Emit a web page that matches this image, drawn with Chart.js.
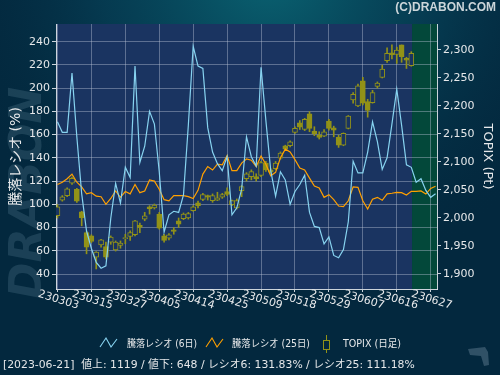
<!DOCTYPE html>
<html>
<head>
<meta charset="utf-8">
<script src="https://cdn.jsdelivr.net/npm/chart.js@4.4.0/dist/chart.umd.min.js"></script>
<style>
    html, body { margin: 0; padding: 0; background: #02253b; }
    #chart { display: block; }
</style>
</head>
<body>
<canvas id="chart" width="500" height="375"></canvas>
<script>
// x axis: one step per trading day, labels every 7 days
const xTickIndex = [0, 7, 14, 21, 28, 35, 42, 49, 56, 63, 70, 77];
const xTickLabels = ['230303', '230315', '230327', '230405', '230414', '230425',
    '230509', '230518', '230529', '230607', '230616', '230627'];
const futureFrom = 73.15;

const leftTicks = [40, 60, 80, 100, 120, 140, 160, 180, 200, 220, 240];
const rightTicks = [1900, 1950, 2000, 2050, 2100, 2150, 2200, 2250, 2300];

// 騰落レシオ (6日)
const ratio6 = [171, 162, 162, 213, 158, 109, 77, 62, 50, 45,
    47, 88, 118, 101, 132, 123, 219, 136, 150, 180,
    169, 128, 76, 91, 94, 93, 108, 168, 236, 219,
    217, 166, 145, 135, 129, 141, 91, 97, 113, 158,
    141, 133, 218, 172, 129, 107, 128, 121, 100, 111,
    117, 125, 93, 81, 80, 66, 72, 56, 54, 61,
    85, 137, 127, 127, 145, 171, 154, 130, 140, 169,
    199, 168, 134, 131.83, 119, 122, 112, 106, 109];

// 騰落レシオ (25日)
const ratio25 = [117, 119, 122, 126, 119, 115, 109, 110, 107, 106.5,
    100, 105, 111.5, 106, 111, 109, 117, 110, 111.5, 121,
    120, 113, 104, 103, 107.4, 107.4, 107.4, 106.6, 105, 112,
    126, 132.5, 129.5, 134.5, 134, 142, 129, 129, 135.5, 139,
    138, 132.5, 141.5, 134.5, 124.6, 127.5, 140, 147.5, 145, 138.5,
    131.2, 129.5, 122.5, 115.8, 114, 106, 108.3, 104, 98.5, 98,
    103, 115, 114.6, 103, 96, 104.4, 106, 103.5, 109, 109.5,
    110.3, 110, 108, 111.18, 111.2, 111.5, 108.8, 113.7, 115.5];

// TOPIX (日足)
const topixOpen = [2004, 2032, 2040, 2062, 2051, 2011, 1974, 1968, 1930, 1952,
    1949, 1957, 1943, 1951, 1963, 1967, 1970, 1987, 1998, 2020,
    2018, 2007, 1968, 1964, 1979, 1995, 1999, 2000, 2013, 2027,
    2033, 2040, 2031, 2032, 2037, 2047, 2024, 2018, 2049, 2070,
    2074, 2074, 2076, 2098, 2086, 2088, 2107, 2129, 2129, 2153,
    2170, 2158, 2186, 2155, 2148, 2146, 2173, 2161, 2144, 2130,
    2160, 2211, 2200, 2245, 2208, 2206, 2235, 2251, 2281, 2295,
    2292, 2309, 2285, 2272];
const topixHigh = [2024, 2040, 2054, 2073, 2053, 2012, 1976, 1970, 1940, 1962,
    1957, 1968, 1959, 1959, 1971, 1977, 1996, 1991, 2010, 2022,
    2025, 2010, 1971, 1972, 1983, 2000, 2009, 2010, 2022, 2030,
    2044, 2041, 2043, 2046, 2044, 2054, 2032, 2034, 2058, 2081,
    2086, 2079, 2101, 2101, 2088, 2101, 2118, 2130, 2138, 2163,
    2174, 2178, 2190, 2163, 2154, 2158, 2176, 2164, 2148, 2152,
    2183, 2224, 2239, 2251, 2212, 2228, 2243, 2273, 2304, 2309,
    2305, 2309, 2287, 2297];
const topixLow = [2000, 2030, 2038, 2060, 2028, 1986, 1936, 1956, 1909, 1948,
    1927, 1953, 1941, 1946, 1954, 1960, 1968, 1974, 1995, 2007,
    2016, 1980, 1957, 1961, 1971, 1983, 1997, 1998, 2012, 2018,
    2031, 2032, 2028, 2031, 2035, 2040, 2022, 2016, 2038, 2066,
    2068, 2066, 2074, 2083, 2080, 2086, 2105, 2121, 2127, 2151,
    2158, 2156, 2154, 2147, 2141, 2145, 2157, 2145, 2126, 2129,
    2159, 2205, 2199, 2202, 2180, 2205, 2232, 2250, 2278, 2284,
    2276, 2278, 2267, 2271];
const topixClose = [2020, 2038, 2052, 2071, 2030, 2000, 1948, 1958, 1939, 1961,
    1930, 1966, 1957, 1955, 1965, 1974, 1995, 1983, 2004, 2016,
    2023, 1982, 1960, 1970, 1976, 1989, 2007, 2008, 2020, 2022,
    2042, 2037, 2040, 2036, 2042, 2042, 2031, 2031, 2056, 2079,
    2083, 2070, 2099, 2086, 2082, 2098, 2116, 2123, 2136, 2160,
    2162, 2176, 2160, 2150, 2144, 2154, 2160, 2157, 2130, 2151,
    2182, 2221, 2236, 2205, 2192, 2224, 2241, 2266, 2294, 2291,
    2300, 2288, 2282, 2294];

const footerText = '[2023-06-21]  値上: 1119 / 値下: 648 / レシオ6: 131.83% / レシオ25: 111.18%';

const plotBg = '#1a3461';
const futureBg = '#03483a';
const gridColor = 'rgba(185,195,215,0.42)';
const axisColor = 'rgba(225,230,235,0.9)';
const textColor = '#e6e8ea';
const blue = '#87d3f0';
const orange = '#ffa000';
const olive = '#929218';
const cjk = '"DejaVu Sans", "Noto Sans CJK JP", sans-serif';

document.addEventListener('DOMContentLoaded', () => {
    // Backgrounds, watermark, labels, legend and footer
    const decor = {
        id: 'decor',
        beforeDraw(chart) {
            const { ctx, chartArea: a, scales } = chart;
            ctx.save();
            ctx.fillStyle = '#03283e';
            ctx.fillRect(0, 0, 500, 375);
            const glow = ctx.createRadialGradient(270, -30, 10, 270, -30, 330);
            glow.addColorStop(0, 'rgba(10,100,115,0.95)');
            glow.addColorStop(0.5, 'rgba(7,70,92,0.6)');
            glow.addColorStop(1, 'rgba(3,40,62,0)');
            ctx.fillStyle = glow;
            ctx.fillRect(0, 0, 500, 375);

            // watermark
            ctx.save();
            ctx.translate(30, 193);
            ctx.rotate(-Math.PI / 2);
            ctx.font = 'italic bold 44px "DejaVu Sans"';
            ctx.fillStyle = 'rgba(95,135,155,0.26)';
            ctx.textAlign = 'center';
            ctx.textBaseline = 'middle';
            ctx.fillText('DRABON', 0, 0);
            ctx.restore();

            ctx.fillStyle = 'rgba(85,115,135,0.55)';
            ctx.beginPath();
            ctx.moveTo(468, 349); ctx.lineTo(485, 347); ctx.lineTo(488, 352);
            ctx.lineTo(489, 365); ctx.lineTo(484, 366); ctx.lineTo(481, 356);
            ctx.lineTo(470, 355); ctx.closePath(); ctx.fill();

            // plot area + not-yet-traded days
            ctx.fillStyle = plotBg;
            ctx.fillRect(a.left, a.top, a.right - a.left, a.bottom - a.top);
            const fx = scales.x.getPixelForValue(futureFrom);
            ctx.fillStyle = futureBg;
            ctx.fillRect(fx, a.top, a.right - fx, a.bottom - a.top);
            ctx.restore();
        },
        afterDraw(chart) {
            const { ctx, scales } = chart;
            ctx.save();

            // slanted date labels
            ctx.fillStyle = textColor;
            ctx.font = '11px "DejaVu Sans"';
            ctx.textAlign = 'center';
            ctx.textBaseline = 'middle';
            xTickIndex.forEach((v, k) => {
                const px = scales.x.getPixelForValue(v);
                ctx.save();
                ctx.translate(px + 1, 300);
                ctx.rotate(17 * Math.PI / 180);
                ctx.fillText(xTickLabels[k], 0, 0);
                ctx.restore();
            });

            // copyright
            ctx.font = 'bold 12px "Liberation Sans"';
            ctx.fillStyle = '#ccd6da';
            ctx.textAlign = 'right';
            ctx.fillText('(C)DRABON.COM', 496, 8);

            // legend
            const ly = 344;
            ctx.lineWidth = 1.1;
            ctx.strokeStyle = blue;
            ctx.beginPath();
            ctx.moveTo(100, 347); ctx.lineTo(106, 338); ctx.lineTo(111, 347); ctx.lineTo(117, 339);
            ctx.stroke();
            ctx.strokeStyle = orange;
            ctx.beginPath();
            ctx.moveTo(206, 347); ctx.lineTo(212, 338); ctx.lineTo(217, 347); ctx.lineTo(223, 339);
            ctx.stroke();
            ctx.strokeStyle = olive;
            ctx.lineWidth = 1;
            ctx.beginPath();
            ctx.moveTo(326.5, 335); ctx.lineTo(326.5, 353);
            ctx.stroke();
            ctx.fillStyle = '#03283e';
            ctx.fillRect(323.5, 340.5, 6, 9);
            ctx.strokeRect(323.5, 340.5, 6, 9);

            ctx.fillStyle = textColor;
            ctx.textAlign = 'left';
            ctx.font = '10px ' + cjk;
            ctx.fillText('騰落レシオ (6日)', 127, ly, 70);
            ctx.fillText('騰落レシオ (25日)', 232, ly, 78);
            ctx.fillText('TOPIX (日足)', 343, ly, 58);

            // footer
            let size = 13;
            ctx.font = size + 'px ' + cjk;
            const w = ctx.measureText(footerText).width;
            size = size * 412 / w;
            ctx.font = size.toFixed(2) + 'px ' + cjk;
            ctx.fillText(footerText, 3, 365);
            ctx.restore();
        }
    };

    const ctx = document.getElementById('chart').getContext('2d');
    new Chart(ctx, {
        type: 'line',
        data: {
            datasets: [{
                label: '騰落レシオ (6日)',
                data: ratio6.map((v, i) => ({ x: i, y: v })),
                borderColor: blue,
                borderWidth: 1.2,
                pointRadius: 0,
                tension: 0,
                yAxisID: 'y',
                order: 0
            }, {
                label: '騰落レシオ (25日)',
                data: ratio25.map((v, i) => ({ x: i, y: v })),
                borderColor: orange,
                borderWidth: 1.2,
                pointRadius: 0,
                tension: 0,
                yAxisID: 'y',
                order: 0
            }, {
                type: 'bar',
                label: 'TOPIX body',
                data: topixOpen.map((o, i) => ({ x: i, y: [o, topixClose[i]] })),
                backgroundColor: (c) => {
                    const i = c.dataIndex;
                    if (i === undefined) return olive;
                    return topixClose[i] < topixOpen[i] ? olive : plotBg;
                },
                borderColor: olive,
                borderWidth: 1,
                borderSkipped: false,
                barThickness: 5,
                grouped: false,
                yAxisID: 'y1',
                order: 1
            }, {
                type: 'bar',
                label: 'TOPIX wick',
                data: topixLow.map((l, i) => ({ x: i, y: [l, topixHigh[i]] })),
                backgroundColor: olive,
                borderWidth: 0,
                barThickness: 1,
                grouped: false,
                yAxisID: 'y1',
                order: 2
            }]
        },
        options: {
            responsive: false,
            animation: false,
            devicePixelRatio: 1,
            events: [],
            layout: { padding: { top: 24, left: 0, right: 0, bottom: 0 } },
            plugins: {
                legend: { display: false },
                tooltip: { enabled: false }
            },
            scales: {
                x: {
                    type: 'linear',
                    min: -0.3,
                    max: 78.3,
                    offset: false,
                    afterBuildTicks: (s) => { s.ticks = xTickIndex.map(v => ({ value: v })); },
                    afterFit: (s) => { s.height = 86; },
                    ticks: { display: false },
                    grid: { color: gridColor, tickColor: axisColor, tickLength: 3, offset: false },
                    border: { color: axisColor }
                },
                y: {
                    position: 'left',
                    min: 27.1,
                    max: 255.2,
                    afterBuildTicks: (s) => { s.ticks = leftTicks.map(v => ({ value: v })); },
                    afterFit: (s) => { s.width = 56; },
                    ticks: { color: textColor, font: { family: 'DejaVu Sans', size: 11 }, padding: 2 },
                    grid: { color: gridColor, tickColor: axisColor, tickLength: 4 },
                    border: { color: axisColor },
                    title: {
                        display: true,
                        text: '騰落レシオ (%)',
                        color: textColor,
                        font: { family: '"DejaVu Sans", "Noto Sans CJK JP"', size: 14 },
                        padding: { top: 8, bottom: 0 }
                    }
                },
                y1: {
                    position: 'right',
                    min: 1873.2,
                    max: 2346.4,
                    afterBuildTicks: (s) => { s.ticks = rightTicks.map(v => ({ value: v })); },
                    afterFit: (s) => { s.width = 63; },
                    ticks: {
                        color: textColor,
                        font: { family: 'DejaVu Sans', size: 11 },
                        padding: 2,
                        callback: (v) => v.toLocaleString('en-US')
                    },
                    grid: { drawOnChartArea: false, tickColor: axisColor, tickLength: 4 },
                    border: { color: axisColor },
                    title: {
                        display: true,
                        text: 'TOPIX (Pt)',
                        color: textColor,
                        font: { family: 'DejaVu Sans', size: 13 },
                        padding: { top: 5, bottom: 0 }
                    }
                }
            }
        },
        plugins: [decor]
    });
});
</script>
</body>
</html>
